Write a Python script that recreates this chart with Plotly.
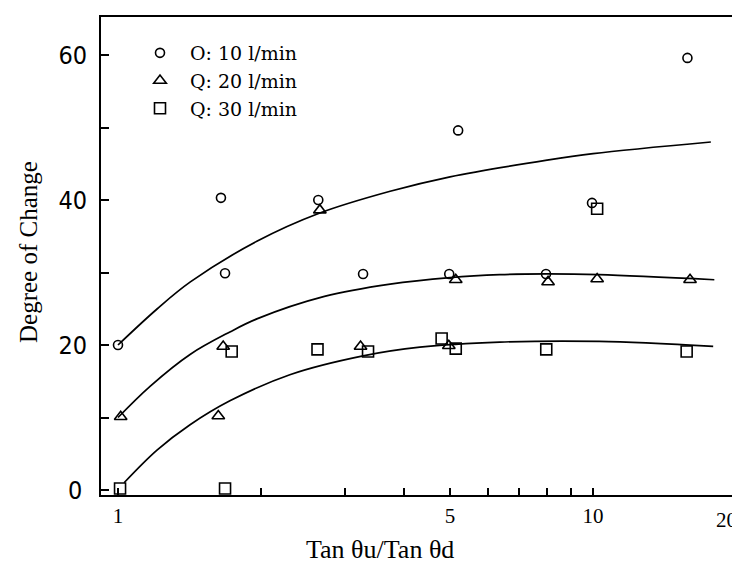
import plotly.graph_objects as go

# ---- data ----
x_q10 = [1.0, 1.647, 1.68, 2.64, 3.28, 4.98, 5.2, 7.96, 9.95, 15.8]
y_q10 = [20.0, 40.3, 29.9, 40.0, 29.8, 29.8, 49.6, 29.8, 39.6, 59.6]

x_q20 = [1.013, 1.626, 1.665, 2.66, 3.24, 4.97, 5.14, 8.04, 10.2, 16.0]
y_q20 = [10.1, 10.2, 19.8, 38.6, 19.8, 19.9, 29.0, 28.7, 29.1, 29.0]

x_q30 = [1.01, 1.68, 1.735, 2.63, 3.36, 4.8, 5.14, 7.97, 10.2, 15.74]
y_q30 = [0.2, 0.2, 19.1, 19.4, 19.1, 20.9, 19.5, 19.4, 38.8, 19.1]

# fitted curves
cx_q10 = [1.0, 1.21, 1.42, 1.96, 2.66, 3.74, 5.0, 8.0, 10.0, 17.7]
cy_q10 = [20.0, 25.0, 28.7, 34.3, 38.2, 41.2, 43.2, 45.5, 46.4, 48.0]

cx_q20 = [1.0, 1.168, 1.418, 1.72, 1.96, 2.72, 3.74, 5.0, 6.36, 8.0, 10.3, 18.0]
cy_q20 = [10.0, 14.3, 18.7, 21.8, 23.6, 26.7, 28.4, 29.3, 29.7, 29.8, 29.7, 29.0]

cx_q30 = [1.03, 1.208, 1.418, 1.72, 2.30, 3.28, 4.32, 6.36, 10.3, 17.9]
cy_q30 = [1.0, 5.5, 9.0, 12.3, 15.9, 18.5, 19.7, 20.4, 20.5, 19.8]

x_tickvals = [1, 2, 3, 4, 5, 6, 7, 8, 9, 10, 20]
x_ticktext = ["1", "", "", "", "5", "", "", "", "", "10", ""]
x_last_label = "20"
y_tickvals = [0, 10, 20, 30, 40, 50, 60]
y_ticktext = ["", "", "20", "", "40", "", "60"]
y_zero_label = "0"

names = ["O: 10 l/min", "Q: 20 l/min", "Q: 30 l/min"]
x_title = "Tan θu/Tan θd"
y_title = "Degree of Change"

SERIF = "DejaVu Serif"
TSERIF = "Liberation Serif"
NARROW = "Liberation Sans Narrow, DejaVu Sans Condensed, Liberation Sans, sans-serif"

# The page body has an 8px default margin, so the figure is drawn 8px in.
OFF = 8
PAGE_W, PAGE_H = 740, 566
W, H = PAGE_W - OFF, PAGE_H - OFF
# plot-area geometry in page pixels
PL, PR, PT, PB = 101, 737, 17, 495
L, R, T, B = PL - OFF, PR - OFF, PT - OFF, PB - OFF

def px_x(p):  # page px -> paper x
    return (p - PL) / (PR - PL)
def px_y(p):  # page px -> paper y
    return (PB - p) / (PB - PT)

fig = go.Figure()

for cx, cy in [(cx_q10, cy_q10), (cx_q20, cy_q20), (cx_q30, cy_q30)]:
    fig.add_trace(go.Scatter(x=cx, y=cy, mode="lines",
                             line=dict(color="black", width=1.7, shape="spline", smoothing=1.0),
                             showlegend=False, hoverinfo="skip"))

for xs, ys, sym, sz, nm in [(x_q10, y_q10, "circle-open", 9, names[0]),
                             (x_q20, y_q20, "triangle-up-open", 11, names[1]),
                             (x_q30, y_q30, "square-open", 11, names[2])]:
    fig.add_trace(go.Scatter(x=xs, y=ys, mode="markers", name=nm,
                             marker=dict(symbol=sym, size=sz, color="black",
                                         line=dict(color="black", width=1.6))))

fig.update_layout(
    width=W, height=H,
    margin=dict(l=L, r=W - R, t=T, b=H - B),
    paper_bgcolor="white", plot_bgcolor="white",
    font=dict(family=SERIF, size=18, color="black"),
    showlegend=True,
    legend=dict(x=px_x(130), y=px_y(34), xanchor="left", yanchor="top",
                bgcolor="rgba(0,0,0,0)", font=dict(family=SERIF, size=19),
                itemwidth=50, itemsizing="trace", tracegroupgap=0),
    xaxis=dict(type="log", range=[(PL - 118) / 475, 1.303], automargin=False,
               tickvals=x_tickvals, ticktext=x_ticktext,
               ticks="inside", ticklen=7, tickwidth=1.5, tickcolor="black",
               showline=True, linecolor="black", linewidth=2, mirror=True,
               showgrid=False, zeroline=False,
               ticklabelstandoff=1,
               tickfont=dict(family=TSERIF, size=21)),
    yaxis=dict(range=[(490 - PB) / 7.25, (490 - PT) / 7.25], automargin=False,
               tickvals=y_tickvals, ticktext=y_ticktext,
               ticks="inside", ticklen=8, tickwidth=1.5, tickcolor="black",
               showline=True, linecolor="black", linewidth=2, mirror=True,
               showgrid=False, zeroline=False,
               ticklabelstandoff=7,
               tickfont=dict(family=NARROW, size=25)),
    annotations=[
        dict(text=x_title, xref="paper", yref="paper",
             x=px_x(380), y=px_y(549), xanchor="center", yanchor="middle",
             showarrow=False, font=dict(family=TSERIF, size=26)),
        dict(text=y_title, xref="paper", yref="paper",
             x=px_x(28), y=px_y(252), xanchor="center", yanchor="middle",
             textangle=-90, showarrow=False, font=dict(family=TSERIF, size=25)),
        dict(text=y_zero_label, xref="paper", yref="y",
             x=px_x(84), y=0, xanchor="right", yanchor="middle",
             showarrow=False, font=dict(family=NARROW, size=25)),
        dict(text=x_last_label, xref="paper", yref="paper",
             x=px_x(739), y=px_y(520), xanchor="right", yanchor="middle",
             showarrow=False, font=dict(family=TSERIF, size=21)),
    ],
)

fig.write_html("out.html")
